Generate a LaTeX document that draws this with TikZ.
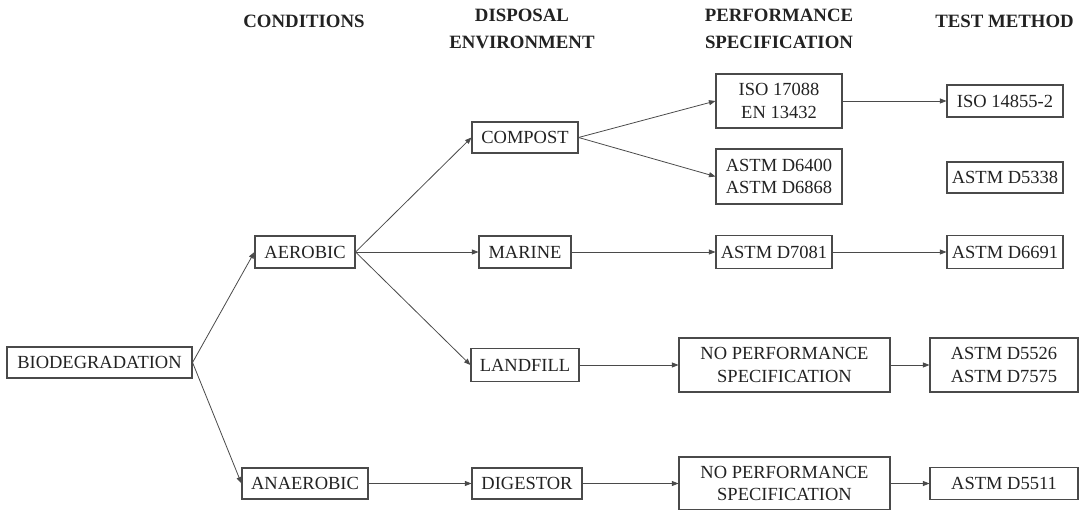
\documentclass[tikz,border=0pt]{standalone}
\usepackage{fontspec}
\setmainfont{Liberation Serif}
\usetikzlibrary{arrows.meta}
\definecolor{ln}{HTML}{4A4A4A}
\definecolor{tx}{HTML}{222222}
\begin{document}
\begin{tikzpicture}[x=1pt,y=-1pt,
  box/.style={draw=ln, line width=1.1pt, text=tx, inner sep=0pt, align=center,
    font=\fontsize{18.5}{22.6}\selectfont},
  hdr/.style={text=tx, align=center, inner sep=0pt,
    font=\fontsize{18.8}{27}\selectfont\bfseries},
  conn/.style={draw=ln, line width=0.8pt, -{Triangle[length=6.5pt,width=5pt]}}]
\useasboundingbox (0,0) rectangle (1083,510);
% headers
\node[hdr] (h1) at (304,21.5) {CONDITIONS};
\node[hdr] (h2) at (522,29) {DISPOSAL\\ENVIRONMENT};
\node[hdr] (h3) at (779,29) {PERFORMANCE\\SPECIFICATION};
\node[hdr] (h4) at (1004.5,21.5) {TEST METHOD};
% boxes
\node[box, minimum width=185pt, minimum height=31pt] (bio) at (99.5,362.5) {BIODEGRADATION};
\node[box, minimum width=100pt, minimum height=32pt] (aer) at (305,252) {AEROBIC};
\node[box, minimum width=126pt, minimum height=31pt] (ana) at (305,483.5) {ANAEROBIC};
\node[box, minimum width=106pt, minimum height=31pt] (comp) at (525,137.5) {COMPOST};
\node[box, minimum width=92pt, minimum height=32pt] (mar) at (525,252) {MARINE};
\node[box, minimum width=108pt, minimum height=33pt] (land) at (525,365) {LANDFILL};
\node[box, minimum width=110pt, minimum height=31pt] (dig) at (527,483.5) {DIGESTOR};
\node[box, minimum width=126pt, minimum height=54pt] (iso) at (779,101) {ISO 17088\\EN 13432};
\node[box, minimum width=126pt, minimum height=55pt] (d6400) at (779,176.5) {ASTM D6400\\ASTM D6868};
\node[box, minimum width=116pt, minimum height=33pt] (d7081) at (774,252) {ASTM D7081};
\node[box, minimum width=211pt, minimum height=54pt] (np1) at (784.5,365) {NO PERFORMANCE\\SPECIFICATION};
\node[box, minimum width=211pt, minimum height=53pt] (np2) at (784.5,483.5) {NO PERFORMANCE\\SPECIFICATION};
\node[box, minimum width=116pt, minimum height=32pt] (iso148) at (1005,101) {ISO 14855-2};
\node[box, minimum width=116pt, minimum height=31pt] (d5338) at (1005,177.5) {ASTM D5338};
\node[box, minimum width=116pt, minimum height=33pt] (d6691) at (1005,252) {ASTM D6691};
\node[box, minimum width=148pt, minimum height=54pt] (d5526) at (1004,365) {ASTM D5526\\ASTM D7575};
\node[box, minimum width=148pt, minimum height=32pt] (d5511) at (1004,483.5) {ASTM D5511};
% connectors
\draw[conn] (bio.east) -- (aer.west);
\draw[conn] (bio.east) -- (ana.west);
\draw[conn] (aer.east) -- (comp.west);
\draw[conn] (aer.east) -- (mar.west);
\draw[conn] (aer.east) -- (land.west);
\draw[conn] (ana.east) -- (dig.west);
\draw[conn] (comp.east) -- (iso.west);
\draw[conn] (comp.east) -- (d6400.west);
\draw[conn] (mar.east) -- (d7081.west);
\draw[conn] (land.east) -- (np1.west);
\draw[conn] (dig.east) -- (np2.west);
\draw[conn] (iso.east) -- (iso148.west);
\draw[conn] (d7081.east) -- (d6691.west);
\draw[conn] (np1.east) -- (d5526.west);
\draw[conn] (np2.east) -- (d5511.west);
\end{tikzpicture}
\end{document}
